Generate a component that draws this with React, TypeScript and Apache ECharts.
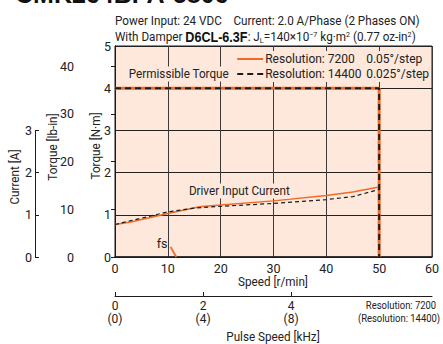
import React, { useEffect, useRef } from 'react';
import * as echarts from 'echarts';

const titleText = 'CMK264BPA-5806';
const torqueLine = [[0, 4], [50, 4], [50, 0]];
const current7200 = [[0, 0.77], [3, 0.83], [10, 1.03], [16, 1.19], [20, 1.23], [30, 1.33], [40, 1.46], [45, 1.54], [50, 1.66]];
const current14400 = [[0, 0.77], [3, 0.86], [10, 1.07], [15, 1.16], [20, 1.2], [30, 1.27], [40, 1.36], [45, 1.43], [50, 1.6]];
const fsLine = [[10.5, 0.24], [11.6, 0]];
const pulseTickValues = [0, 2, 4];
const pulseTickLabels = ['0\n(0)', '2\n(4)', '4\n(8)'];
const lbinTicks = [0, 10, 20, 30, 40];
const legendNames = ['Resolution: 7200', 'Resolution: 14400'];
const stepAngles = ['0.05°/step', '0.025°/step'];

const FONT = 'Roboto, "Liberation Sans", Arial, sans-serif';
const ORANGE = '#ef6a2a';
const DARK = '#1c1c1c';
const BG = '#fde8db';
const TXT = '#222';
const SX = 0.9;

export default function App() {
  const ref = useRef<HTMLDivElement>(null);
  useEffect(() => {
    if (!ref.current) return;
    const chart = echarts.init(ref.current, undefined, { renderer: 'svg' });
    const txt = (text: string, x: number, y: number, extra: any = {}) => ({
      type: 'text', x, y, z: 50, scaleX: SX,
      style: { text, fill: TXT, fontFamily: FONT, fontSize: 13, textAlign: 'left', textVerticalAlign: 'middle', ...(extra.style || {}) },
      ...(extra.el || {}),
    });
    chart.setOption({
      animation: false,
      textStyle: { fontFamily: FONT },
      grid: [
        { left: 115, right: 11, top: 46, bottom: 87, show: true, backgroundColor: BG, borderColor: DARK, borderWidth: 1 },
        { left: 35, width: 10, top: 130.4, height: 126.6, show: false },
      ],
      xAxis: [
        {
          type: 'value', gridIndex: 0, min: 0, max: 60, interval: 10,
          axisLine: { show: true, lineStyle: { color: DARK, width: 1.5 } },
          axisTick: { show: false },
          axisLabel: { color: TXT, fontSize: 12.5, margin: 5, fontFamily: FONT },
          splitLine: { show: true, lineStyle: { color: '#3a3a3a', width: 1 } },
        },
        {
          type: 'value', gridIndex: 0, position: 'bottom', offset: 39, min: 0, max: 7.2,
          axisLine: { show: true, onZero: false, lineStyle: { color: DARK, width: 1 } },
          axisTick: { show: true, inside: true, length: 4, customValues: pulseTickValues, lineStyle: { color: DARK } },
          axisLabel: {
            customValues: pulseTickValues, color: TXT, fontSize: 12, margin: 3, lineHeight: 13.5, fontFamily: FONT,
            formatter: (v: number) => pulseTickLabels[pulseTickValues.indexOf(v)] ?? '',
          },
          splitLine: { show: false },
        },
        { type: 'value', gridIndex: 1, show: false, min: 0, max: 1 },
      ],
      yAxis: [
        {
          type: 'value', gridIndex: 0, min: 0, max: 5, interval: 1,
          axisLine: { show: true, lineStyle: { color: DARK } },
          axisTick: { show: false },
          axisLabel: { color: TXT, fontSize: 12.5, margin: 4, fontFamily: FONT },
          splitLine: { show: true, lineStyle: { color: '#222', width: 1 } },
        },
        {
          type: 'value', gridIndex: 0, position: 'left', offset: 35, min: 0, max: 44.254,
          axisLine: { show: true, lineStyle: { color: DARK } },
          axisTick: { show: true, length: 4, customValues: lbinTicks, lineStyle: { color: DARK } },
          axisLabel: { customValues: lbinTicks, color: TXT, fontSize: 12.5, margin: 6, fontFamily: FONT },
          splitLine: { show: false },
        },
        {
          type: 'value', gridIndex: 1, position: 'left', min: 0, max: 3, interval: 1,
          axisLine: { show: true, lineStyle: { color: DARK } },
          axisTick: { show: true, inside: true, length: 4, lineStyle: { color: DARK } },
          axisLabel: { color: TXT, fontSize: 12.5, margin: 3, fontFamily: FONT },
          splitLine: { show: false },
        },
      ],
      legend: {
        data: legendNames, orient: 'vertical', right: 12, top: 51, itemWidth: 26, itemHeight: 12, itemGap: 3,
        backgroundColor: BG, padding: [2, 2, 2, 2], align: 'left',
        itemStyle: { opacity: 0 },
        textStyle: {
          color: TXT, fontSize: 12, fontFamily: FONT, padding: [0, 0, 0, -3],
          rich: { a: { width: 101, fontSize: 12, fontFamily: FONT, color: TXT }, b: { fontSize: 12, fontFamily: FONT, color: TXT } },
        },
        formatter: (name: string) => `{a|${name}}{b|${stepAngles[legendNames.indexOf(name)]}}`,
      },
      series: [
        { name: legendNames[0], type: 'line', data: torqueLine, symbol: 'none', color: ORANGE, lineStyle: { color: ORANGE, width: 3 }, z: 3 },
        { name: legendNames[0], type: 'line', data: current7200, symbol: 'none', color: ORANGE, lineStyle: { color: ORANGE, width: 1.5 }, z: 3 },
        {
          name: 'fs', type: 'line', symbol: 'circle', symbolSize: 0, showSymbol: true, showAllSymbol: true,
          data: fsLine.map((p, i) => i === 0 ? { value: p, label: { show: true, formatter: 'fs', position: 'left', distance: 3, offset: [0, -3], color: TXT, fontSize: 12.5, fontFamily: FONT } } : { value: p }),
          color: ORANGE, lineStyle: { color: ORANGE, width: 1.8 }, z: 3,
        },
        { name: legendNames[1], type: 'line', data: torqueLine, symbol: 'none', color: DARK, lineStyle: { color: DARK, width: 2, type: [6, 4] }, z: 4 },
        { name: legendNames[1], type: 'line', data: current14400, symbol: 'none', color: DARK, lineStyle: { color: DARK, width: 1.2, type: [4, 3] }, z: 4 },
      ],
      graphic: [
        { type: 'text', x: 15, y: 6, z: 50, style: { text: titleText, fill: '#111', fontFamily: '"Liberation Sans", Arial, sans-serif', fontWeight: 'bold', fontSize: 25, textAlign: 'left', textVerticalAlign: 'bottom' } },
        txt('Power Input: 24 VDC    Current: 2.0 A/Phase (2 Phases ON)', 115, 21),
        {
          type: 'text', x: 115, y: 37, z: 50, scaleX: SX,
          style: {
            text: 'With Damper {b|D6CL-6.3F}: J{sub|L}=140×10{sup|−7} kg·m{sup|2} (0.77 oz-in{sup|2})',
            fill: TXT, fontFamily: FONT, fontSize: 13, textAlign: 'left', textVerticalAlign: 'middle',
            rich: {
              b: { fontFamily: '"Liberation Sans", Arial, sans-serif', fontWeight: 'bold', fontSize: 14, fill: '#111' },
              sub: { fontSize: 8, fontFamily: FONT, fill: TXT, verticalAlign: 'bottom', padding: [5, 0, 0, 0] },
              sup: { fontSize: 8, fontFamily: FONT, fill: TXT, verticalAlign: 'top', padding: [0, 0, 5, 0] },
            },
          },
        },
        txt('Permissible Torque', 127, 74, { style: { backgroundColor: BG, padding: [1, 2] } }),
        txt('Driver Input Current', 188, 191, { style: { backgroundColor: BG, padding: [1, 1] } }),
        txt('Speed [r/min]', 273, 282, { style: { textAlign: 'center' } }),
        txt('Pulse Speed [kHz]', 273, 337, { style: { textAlign: 'center' } }),
        txt('Resolution: 7200', 401, 305, { style: { textAlign: 'center', fontSize: 10.5 } }),
        txt('(Resolution: 14400)', 399, 318, { style: { textAlign: 'center', fontSize: 10.5 } }),
        txt('Torque [N·m]', 96, 146, { style: { textAlign: 'center' }, el: { rotation: Math.PI / 2 } }),
        txt('Torque [lb-in]', 53, 147, { style: { textAlign: 'center' }, el: { rotation: Math.PI / 2 } }),
        txt('Current [A]', 15, 177, { style: { textAlign: 'center' }, el: { rotation: Math.PI / 2 } }),
      ],
    });
    return () => chart.dispose();
  }, []);
  return <div ref={ref} style={{ position: 'fixed', left: 0, top: 0, width: 443, height: 344, background: '#fff' }} />;
}
